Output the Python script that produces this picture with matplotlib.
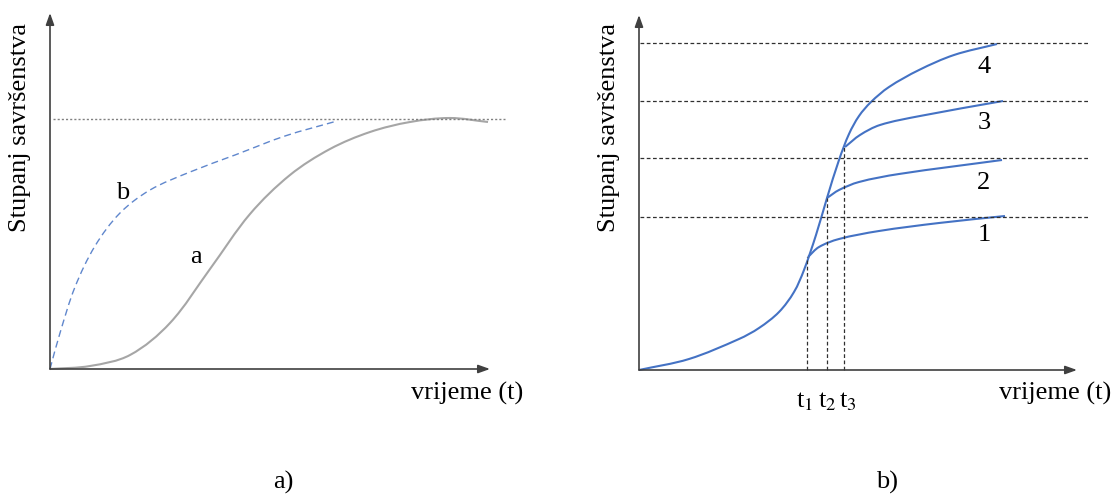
import matplotlib.pyplot as plt
from matplotlib.path import Path
from matplotlib.patches import PathPatch

plt.rcParams["font.family"] = ["Liberation Serif", "DejaVu Serif"]
plt.rcParams["mathtext.fontset"] = "stix"

W, H = 1115, 495

# panel a) -- values in pixel-like units measured from the origin
a_x = [0, 40, 80, 120, 160, 200, 240, 280, 320, 360, 400, 438]
a_y = [0, 3, 14, 46, 100, 155, 194, 220, 237, 247, 251, 247]
b_x = [0, 10, 25, 45, 70, 100, 140, 185, 235, 287]
b_y = [0, 36, 82, 123, 156, 179, 197, 214, 233, 248]
a_limit = 250

# panel b)
main_x = [0, 50, 100, 120, 140, 155, 165, 177, 188, 200, 210, 220, 232, 250, 280, 315, 358]
main_y = [0, 11, 31, 42, 58, 78, 100, 135, 172, 210, 236, 254, 268, 283, 300, 315, 326]
br1_x = [169, 180, 200, 240, 300, 366]
br1_y = [113, 123, 131, 139, 147, 154]
br2_x = [188, 200, 220, 260, 363]
br2_y = [172, 180, 188, 196, 210]
br3_x = [206, 221, 241, 281, 364]
br3_y = [223, 235, 245, 254, 269]
levels = [153, 212, 269, 327]
level_labels = ["1", "2", "3", "4"]
t_x = [168, 188, 205]
t_top = [113, 172, 223]
t_labels = ["t$_1$", "t$_2$", "t$_3$"]

BLUE = "#4472C4"
GRAY = "#A6A6A6"
AXC = "#404040"
FS = 19

fig = plt.figure(figsize=(W / 100, H / 100), dpi=100)


def make_axes(ox, oy, wx, hy):
    ax = fig.add_axes([ox / W, (H - oy) / H, wx / W, hy / H])
    ax.set_xlim(0, wx)
    ax.set_ylim(0, hy)
    ax.axis("off")
    return ax


def draw_axes(ax, xend, yend):
    kw = dict(arrowstyle="-|>,head_length=0.7,head_width=0.25", color=AXC, lw=1.2,
              shrinkA=0, shrinkB=0)
    ax.annotate("", xy=(xend, 0), xytext=(0, 0), arrowprops=kw, annotation_clip=False)
    ax.annotate("", xy=(0, yend), xytext=(0, 0), arrowprops=kw, annotation_clip=False)


def _unit(p, q):
    dx, dy = q[0] - p[0], q[1] - p[1]
    d = (dx * dx + dy * dy) ** 0.5 or 1.0
    return dx / d, dy / d


def smooth_curve(ax, xs, ys, **kw):
    # cubic bezier segments through every read point, handles scaled to chord length
    pts = list(zip(xs, ys))
    n = len(pts)
    verts = [pts[0]]
    codes = [Path.MOVETO]
    for i in range(n - 1):
        p0 = pts[max(i - 1, 0)]
        p1, p2 = pts[i], pts[i + 1]
        p3 = pts[min(i + 2, n - 1)]
        chord = ((p2[0] - p1[0]) ** 2 + (p2[1] - p1[1]) ** 2) ** 0.5 / 3
        d1 = _unit(p0, p2)
        d2 = _unit(p1, p3)
        c1 = (p1[0] + d1[0] * chord, p1[1] + d1[1] * chord)
        c2 = (p2[0] - d2[0] * chord, p2[1] - d2[1] * chord)
        verts += [c1, c2, p2]
        codes += [Path.CURVE4] * 3
    patch = PathPatch(Path(verts, codes), fill=False, clip_on=False, capstyle="butt", **kw)
    ax.add_patch(patch)


# --- a)
ax1 = make_axes(50, 369, 470, 360)
draw_axes(ax1, 440, 356)
ax1.plot([3, 455], [a_limit, a_limit], color="#808080", lw=1.0, ls=(0, (1.5, 1.5)), clip_on=False)
smooth_curve(ax1, b_x, b_y, edgecolor=BLUE, lw=1.0, ls=(0, (5, 3)), alpha=0.85)
smooth_curve(ax1, a_x, a_y, edgecolor=GRAY, lw=1.5)
ax1.text(73, 176, "b", fontsize=FS, ha="center", va="center")
ax1.text(146, 112, "a", fontsize=FS, ha="center", va="center")

# --- b)
ax2 = make_axes(639, 370, 470, 360)
draw_axes(ax2, 438, 355)
for lv in levels:
    ax2.plot([1, 451], [lv, lv], color="#303030", lw=0.9, ls=(0, (3, 2)), clip_on=False)
for tx, tt in zip(t_x, t_top):
    ax2.plot([tx, tx], [0, tt], color="#303030", lw=0.9, ls=(0, (3, 2)), clip_on=False)
for xs, ys in [(main_x, main_y), (br1_x, br1_y), (br2_x, br2_y), (br3_x, br3_y)]:
    smooth_curve(ax2, xs, ys, edgecolor=BLUE, lw=1.5)
for lab, ly in zip(level_labels, [135, 187, 247, 303]):
    ax2.text(345, ly, lab, fontsize=FS, ha="center", va="center")
for tx, lab in zip([166, 188, 209], t_labels):
    ax2.text(tx, -32, lab, fontsize=FS, ha="center", va="center")

# axis titles and panel captions
for x in [20, 609]:
    fig.text(x / W, 1 - 128 / H, "Stupanj savršenstva", rotation=90, fontsize=FS,
             ha="center", va="center")
for x in [467, 1055]:
    fig.text(x / W, 1 - 393 / H, "vrijeme (t)", fontsize=FS, ha="center", va="center")
fig.text(283 / W, 1 - 482 / H, "a)", fontsize=FS, ha="center", va="center")
fig.text(887 / W, 1 - 482 / H, "b)", fontsize=FS, ha="center", va="center")

fig.savefig("out.png", dpi=100)
